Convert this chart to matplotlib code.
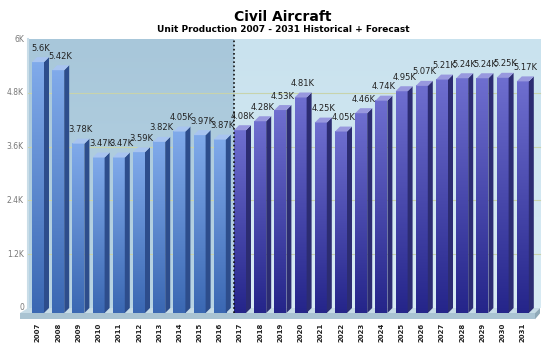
import numpy as np
import matplotlib
matplotlib.use("Agg")
import matplotlib.pyplot as plt
from matplotlib.patches import Polygon
from matplotlib.colors import LinearSegmentedColormap

# Unit production, thousands
years = [str(y) for y in range(2007, 2032)]
units_k = [5.6, 5.42, 3.78, 3.47, 3.47, 3.59, 3.82, 4.05, 3.97, 3.87,
           4.08, 4.28, 4.53, 4.81, 4.25, 4.05, 4.46, 4.74, 4.95, 5.07,
           5.21, 5.24, 5.24, 5.25, 5.17]
n_hist = 10  # 2007-2016 historical, rest forecast
yticks = [0, 1.2, 2.4, 3.6, 4.8, 6.0]
ytick_labels = ["0", "1.2K", "2.4K", "3.6K", "4.8K", "6K"]

W, H = 550, 348
fig = plt.figure(figsize=(W / 100, H / 100), dpi=100)

# axes placed in pixel terms
px_l, px_r, px_t, px_b = 20, 545, 36, 322
ax = fig.add_axes([px_l / W, 1 - px_b / H, (px_r - px_l) / W, (px_b - px_t) / H])
ppk = 44.8      # pixels per 1K units
pitch = 20.2    # pixels per bar slot
x0_px = 38      # centre of first bar front face
y0_px = 308     # zero line on back wall
ax.set_xlim((px_l - x0_px) / pitch, (px_r - x0_px) / pitch)
ax.set_ylim(-(px_b - y0_px) / ppk, (y0_px - px_t) / ppk)
ax.axis("off")

dx = 5 / pitch
dy = 5 / ppk
half = 6 / pitch
wall_l = (28 - x0_px) / pitch
wall_r = (540 - x0_px) / pitch
split = n_hist - half - 0.02


def vgrad(ax, extent, top, bottom, z):
    cmap = LinearSegmentedColormap.from_list("g", [bottom, top])
    grad = np.linspace(0, 1, 64).reshape(-1, 1)
    ax.imshow(grad, extent=extent, origin="lower", cmap=cmap, aspect="auto",
              interpolation="bicubic", zorder=z)


# back wall
vgrad(ax, [wall_l, split, 0, 6.0], "#a8c7da", "#b8d4e4", 0)
vgrad(ax, [split, wall_r, 0, 6.0], "#c9e2ee", "#d8ebf4", 0)
ax.plot([wall_l, wall_l], [0, 6.0], color="#c9dde8", lw=1.5, zorder=0.5)

for t in yticks[1:-1]:
    ax.plot([wall_l, wall_r], [t, t], color="#c8d3ac", lw=0.8, zorder=1)

# floor
ax.add_patch(Polygon([(wall_l, 0), (wall_r, 0), (wall_r - dx, -dy), (wall_l - 1.6 * dx, -dy)],
                     closed=True, fc="#c6dbe6", ec="none", zorder=1))
ax.add_patch(Polygon([(wall_l - 1.6 * dx, -dy), (wall_r - dx, -dy), (wall_r - dx, -dy - 0.14),
                      (wall_l - 1.6 * dx, -dy - 0.14)],
                     closed=True, fc="#a9c3d2", ec="none", zorder=1))
ax.add_patch(Polygon([(wall_r - dx, -dy), (wall_r, 0), (wall_r, -0.12), (wall_r - dx, -dy - 0.14)],
                     closed=True, fc="#8fa9b8", ec="none", zorder=1))

for i, v in enumerate(units_k):
    hist = i < n_hist
    if hist:
        f_top, f_bot, side, cap = "#80aaea", "#3b68b3", "#2d4d8c", "#a8c4f0"
    else:
        f_top, f_bot, side, cap = "#6e6ecf", "#25258a", "#2c2c72", "#9898de"
    xa, xb = i - half, i + half
    vgrad(ax, [xa, xb, -dy, v - dy], f_top, f_bot, 2)
    ax.add_patch(Polygon([(xb, -dy), (xb + dx, 0), (xb + dx, v), (xb, v - dy)],
                         closed=True, fc=side, ec="none", zorder=2))
    ax.add_patch(Polygon([(xa, v - dy), (xb, v - dy), (xb + dx, v), (xa + dx, v)],
                         closed=True, fc=cap, ec="none", zorder=2))
    ax.text(i + dx / 2, v + 0.1, f"{v:g}K", ha="center", va="bottom",
            fontsize=6, color="#222222", zorder=4)
    ax.text(i, -dy - 0.22, years[i], rotation=90, ha="center", va="top",
            fontsize=5, fontweight="bold", color="#222222")

# historical / forecast divider
ax.plot([split, split], [-dy, 6.0], color="#111111", lw=1.2, ls=(0, (1, 1.5)), zorder=5)

for t, lab in zip(yticks, ytick_labels):
    ax.text(wall_l - 0.2, t, lab, ha="right", va="center", fontsize=5.5, color="#777777")

fig.text(283 / W, 1 - 17 / H, "Civil Aircraft", ha="center", va="center",
         fontsize=10, fontweight="bold")
fig.text(283 / W, 1 - 29 / H, "Unit Production 2007 - 2031 Historical + Forecast",
         ha="center", va="center", fontsize=6.5, fontweight="bold")

fig.savefig("out.png", dpi=100)
